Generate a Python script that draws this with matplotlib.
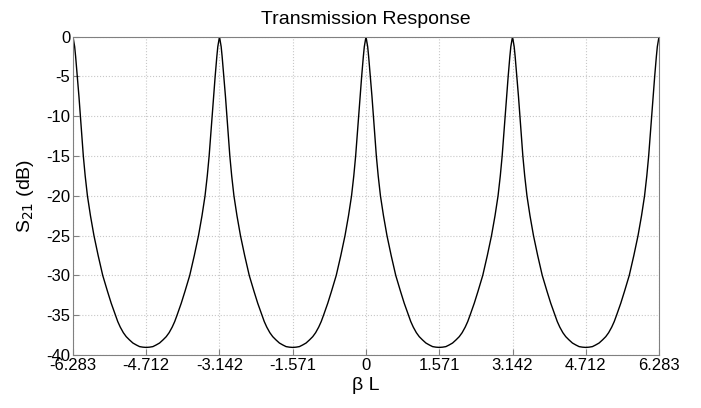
import numpy as np
import matplotlib
matplotlib.use('Agg')
import matplotlib.pyplot as plt

plt.rcParams['font.family'] = ['Liberation Sans', 'DejaVu Sans']
plt.rcParams['axes.unicode_minus'] = False

# one half period: distance from a peak (rad) and S21 (dB)
offset = [0.000, 0.036, 0.057, 0.093, 0.128, 0.160, 0.190, 0.222, 0.262, 0.310,
          0.375, 0.450, 0.540, 0.638, 0.740, 0.820, 0.910, 0.960, 1.014, 1.080,
          1.142, 1.210, 1.285, 1.360, 1.428, 1.500, 1.571]
s21_db = [0.0, -1.25, -2.5, -5.0, -7.5, -10.0, -12.5, -15.0, -17.5, -20.0,
          -22.5, -25.0, -27.5, -30.0, -32.0, -33.5, -35.0, -35.8, -36.5, -37.2,
          -37.7, -38.1, -38.5, -38.75, -38.95, -39.02, -39.05]
peaks = [-2 * np.pi, -np.pi, 0.0, np.pi, 2 * np.pi]

xticks = [-6.283, -4.712, -3.142, -1.571, 0, 1.571, 3.142, 4.712, 6.283]
xticklabels = ['-6.283', '-4.712', '-3.142', '-1.571', '0', '1.571', '3.142', '4.712', '6.283']
yticks = [0, -5, -10, -15, -20, -25, -30, -35, -40]

# put the half-period pieces on both sides of every peak
pts = []
for p in peaks:
    for s in (-1, 1):
        for o, v in zip(offset, s21_db):
            x = p + s * o
            if -2 * np.pi - 1e-9 <= x <= 2 * np.pi + 1e-9:
                pts.append((x, v))
pts.sort(key=lambda t: t[0])
x = [t[0] for t in pts]
y = [t[1] for t in pts]

fig = plt.figure(figsize=(7.01, 4.08), dpi=100)
ax = fig.add_axes([0.1041, 0.130, 0.836, 0.780])

ax.plot(x, y, color='black', linewidth=1.0)

ax.set_xlim(-2 * np.pi, 2 * np.pi)
ax.set_ylim(-40, 0)
ax.set_xticks(xticks)
ax.set_xticklabels(xticklabels)
ax.set_yticks(yticks)
ax.grid(True, color='#c8c8c8', linestyle=':', linewidth=0.8)
ax.tick_params(direction='in', length=4, color='#808080', labelsize=12, pad=2)
for sp in ax.spines.values():
    sp.set_color('#808080')
    sp.set_linewidth(0.8)

ax.set_title('Transmission Response', fontsize=14, pad=9)
ax.set_xlabel('β L', fontsize=14, labelpad=3)
ax.set_ylabel(r'S$_{21}$ (dB)', fontsize=14, labelpad=7)

fig.savefig('out.png', dpi=100)
